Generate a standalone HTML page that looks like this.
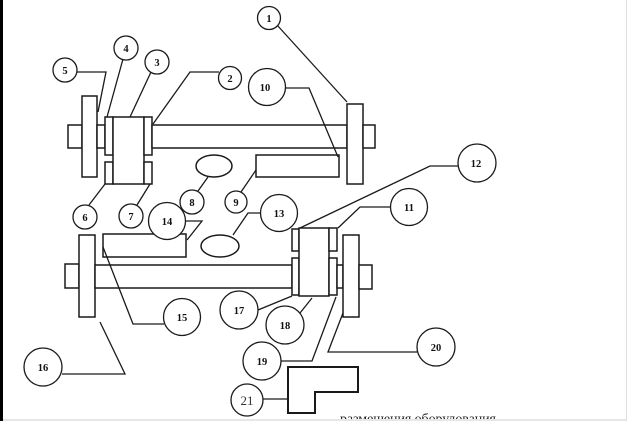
<!DOCTYPE html>
<html><head><meta charset="utf-8"><style>
html,body{margin:0;padding:0;background:#fff;}
body{width:627px;height:421px;overflow:hidden;position:relative;}
svg{position:absolute;left:0;top:0;}
</style></head><body>
<svg width="627" height="421" viewBox="0 0 627 421" xmlns="http://www.w3.org/2000/svg">
<rect x="0" y="0" width="627" height="421" fill="#fff"/>
<g fill="#fff" stroke="#1a1a1a" stroke-width="1.5">
<rect x="68" y="125" width="14" height="23"/>
<rect x="82" y="96" width="15" height="81"/>
<rect x="97" y="125" width="8" height="23"/>
<rect x="105" y="117" width="8" height="38"/>
<rect x="105" y="162" width="8" height="22"/>
<rect x="113" y="117" width="31" height="67"/>
<rect x="144" y="117" width="8" height="38"/>
<rect x="144" y="162" width="8" height="22"/>
<rect x="152" y="125" width="195" height="23"/>
<rect x="347" y="104" width="16" height="80"/>
<rect x="363" y="125" width="12" height="23"/>
<rect x="256" y="155" width="83" height="22"/>
<ellipse cx="214" cy="166" rx="18" ry="11"/>
<rect x="103" y="234" width="83" height="23"/>
<ellipse cx="220" cy="246" rx="19" ry="11"/>
<rect x="65" y="264" width="14" height="24"/>
<rect x="79" y="235" width="16" height="82"/>
<rect x="95" y="265" width="197" height="23"/>
<rect x="292" y="229" width="7" height="22"/>
<rect x="292" y="258" width="7" height="37"/>
<rect x="299" y="228" width="30" height="68"/>
<rect x="329" y="228" width="8" height="23"/>
<rect x="329" y="258" width="8" height="37"/>
<rect x="337" y="265" width="6" height="23"/>
<rect x="343" y="235" width="16" height="82"/>
<rect x="359" y="265" width="13" height="24"/>
<polygon points="288,367 358,367 358,392 315,392 315,413 288,413" stroke-width="2"/>
</g>
<g fill="none" stroke="#1a1a1a" stroke-width="1.3">
<polyline points="277,25 347,102"/>
<polyline points="219,72 190,72 153,124"/>
<polyline points="151,72 130,117"/>
<polyline points="123,59 107,117"/>
<polyline points="77,72 106,72 98,112"/>
<polyline points="89,205 105,184"/>
<polyline points="137,205 150,184"/>
<polyline points="198,191 208,177"/>
<polyline points="241,192 256,170"/>
<polyline points="285,88 309,88 338,157"/>
<polyline points="391,207 360,207 338,228"/>
<polyline points="458,166 430,166 300,228"/>
<polyline points="261,213 248,213 233,235"/>
<polyline points="185,221 202,221 187,240"/>
<polyline points="103,247 133,324 164,324"/>
<polyline points="100,322 125,374 62,374"/>
<polyline points="258,310 292,296"/>
<polyline points="300,313 312,298"/>
<polyline points="281,361 312,361 336,297"/>
<polyline points="417,352 328,352 343,313"/>
<polyline points="263,399 288,399"/>
</g>
<g fill="#fff" stroke="#1a1a1a" stroke-width="1.3">
<circle cx="269" cy="18" r="11.5"/>
<circle cx="230" cy="78" r="11.5"/>
<circle cx="157" cy="62" r="12"/>
<circle cx="126" cy="48" r="12"/>
<circle cx="65" cy="70" r="12"/>
<circle cx="85" cy="217" r="12"/>
<circle cx="131" cy="216" r="12"/>
<circle cx="192" cy="202" r="12"/>
<circle cx="236" cy="202" r="11"/>
<circle cx="267" cy="87" r="18.5"/>
<circle cx="409" cy="207" r="18.5"/>
<circle cx="477" cy="163" r="19"/>
<circle cx="279" cy="213" r="18.5"/>
<circle cx="167" cy="221" r="18.5"/>
<circle cx="182" cy="317" r="18.5"/>
<circle cx="43" cy="367" r="19"/>
<circle cx="239" cy="310" r="19"/>
<circle cx="285" cy="325" r="19"/>
<circle cx="262" cy="361" r="19"/>
<circle cx="436" cy="347" r="19"/>
<circle cx="247" cy="400" r="16"/>
</g>
<g font-family="Liberation Serif, serif" font-weight="bold" font-size="10.5" fill="#111" text-anchor="middle">
<text x="269" y="22">1</text>
<text x="230" y="82">2</text>
<text x="157" y="66">3</text>
<text x="126" y="52">4</text>
<text x="65" y="74">5</text>
<text x="85" y="221">6</text>
<text x="131" y="220">7</text>
<text x="192" y="206">8</text>
<text x="236" y="206">9</text>
<text x="265" y="91">10</text>
<text x="409" y="211">11</text>
<text x="476" y="167">12</text>
<text x="279" y="217">13</text>
<text x="167" y="225">14</text>
<text x="182" y="321">15</text>
<text x="43" y="371">16</text>
<text x="239" y="314">17</text>
<text x="285" y="329">18</text>
<text x="262" y="365">19</text>
<text x="436" y="351">20</text>
</g>
<text x="247" y="405" font-family="Liberation Serif, serif" font-size="13" fill="#333" text-anchor="middle">21</text>
<text x="340" y="423" font-family="Liberation Serif, serif" font-size="14" fill="#222" textLength="156">размещения оборудования</text>
<rect x="0" y="419" width="627" height="2" fill="#e6e6e6"/>
<rect x="626" y="0" width="1" height="421" fill="#e0e0e0"/>
<rect x="0" y="0" width="3" height="421" fill="#000"/>
</svg>
</body></html>
